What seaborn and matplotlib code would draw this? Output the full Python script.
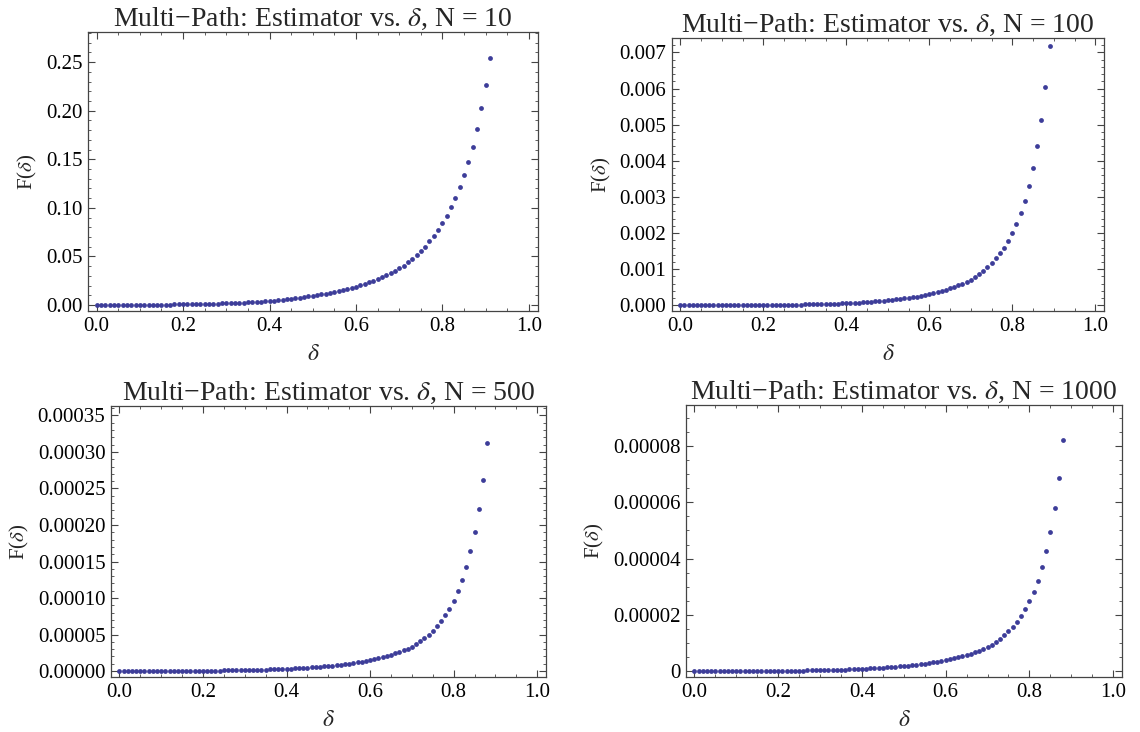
import numpy as np
import pandas as pd
import seaborn as sns
import matplotlib.pyplot as plt
from matplotlib.ticker import MultipleLocator, FuncFormatter

# delta grid used by all four panels
delta = [0.00, 0.01, 0.02, 0.03, 0.04, 0.05, 0.06, 0.07, 0.08, 0.09,
         0.10, 0.11, 0.12, 0.13, 0.14, 0.15, 0.16, 0.17, 0.18, 0.19,
         0.20, 0.21, 0.22, 0.23, 0.24, 0.25, 0.26, 0.27, 0.28, 0.29,
         0.30, 0.31, 0.32, 0.33, 0.34, 0.35, 0.36, 0.37, 0.38, 0.39,
         0.40, 0.41, 0.42, 0.43, 0.44, 0.45, 0.46, 0.47, 0.48, 0.49,
         0.50, 0.51, 0.52, 0.53, 0.54, 0.55, 0.56, 0.57, 0.58, 0.59,
         0.60, 0.61, 0.62, 0.63, 0.64, 0.65, 0.66, 0.67, 0.68, 0.69,
         0.70, 0.71, 0.72, 0.73, 0.74, 0.75, 0.76, 0.77, 0.78, 0.79,
         0.80, 0.81, 0.82, 0.83, 0.84, 0.85, 0.86, 0.87, 0.88, 0.89,
         0.90, 0.91]

# N = 10, delta 0.00 .. 0.91
f_n10 = [0.0, 0.000001, 0.000004, 0.00001, 0.000018, 0.00003, 0.000044, 0.00006, 0.00008, 0.0001,
         0.00012, 0.00015, 0.00018, 0.00022, 0.00026, 0.00031, 0.00037, 0.00044, 0.00052, 0.00061,
         0.0007, 0.00077, 0.00084, 0.00092, 0.0010, 0.00109, 0.00119, 0.0013, 0.00142, 0.00156,
         0.0017, 0.00186, 0.00203, 0.00221, 0.00241, 0.00263, 0.00288, 0.00314, 0.00343, 0.00375,
         0.0041, 0.0045, 0.0049, 0.0053, 0.0058, 0.0063, 0.0068, 0.0074, 0.0081, 0.0088,
         0.0096, 0.0103, 0.0110, 0.0118, 0.0126, 0.0135, 0.0144, 0.0154, 0.0165, 0.0177,
         0.0189, 0.0203, 0.0218, 0.0233, 0.0250, 0.0268, 0.0287, 0.0308, 0.0330, 0.0354,
         0.0378, 0.0405, 0.0440, 0.0474, 0.0515, 0.0556, 0.0601, 0.0656, 0.0711, 0.0773,
         0.0841, 0.0920, 0.1006, 0.1102, 0.1212, 0.1336, 0.1473, 0.1631, 0.1813, 0.2023,
         0.2263, 0.2545]

# N = 100, delta 0.00 .. 0.89
f_n100 = [0.0, 0.0000001, 0.0000002, 0.0000003, 0.0000004, 0.0000005, 0.0000006, 0.0000008, 0.000001, 0.0000012,
          0.0000015, 0.0000019, 0.0000023, 0.0000028, 0.0000034, 0.000004, 0.0000048, 0.0000057, 0.0000066, 0.0000076,
          0.0000085, 0.0000094, 0.0000105, 0.0000117, 0.000013, 0.0000144, 0.000016, 0.0000178, 0.0000197, 0.0000219,
          0.000024, 0.000026, 0.000029, 0.000032, 0.000035, 0.000038, 0.000041, 0.000045, 0.00005, 0.000055,
          0.00006, 0.000065, 0.000071, 0.000077, 0.000084, 0.000092, 0.0001, 0.000109, 0.000118, 0.000129,
          0.00014, 0.000151, 0.000164, 0.000177, 0.000192, 0.000208, 0.000225, 0.000243, 0.000263, 0.000285,
          0.00031, 0.000336, 0.000365, 0.000396, 0.00043, 0.000466, 0.000506, 0.000549, 0.000595, 0.000646,
          0.00070, 0.00078, 0.00087, 0.00096, 0.00106, 0.00117, 0.00130, 0.00144, 0.00160, 0.00179,
          0.00200, 0.00226, 0.00256, 0.00290, 0.00331, 0.00380, 0.00440, 0.00513, 0.00604, 0.00718]

# N = 500, delta 0.00 .. 0.88
f_n500 = [0.0, 0.000000005, 0.00000001, 0.000000015, 0.00000002, 0.00000003, 0.00000004, 0.00000005, 0.00000006, 0.00000007,
          0.00000008, 0.0000001, 0.00000012, 0.00000014, 0.00000017, 0.0000002, 0.00000024, 0.00000028, 0.00000032, 0.00000037,
          0.00000042, 0.00000047, 0.00000052, 0.00000058, 0.00000064, 0.00000071, 0.00000079, 0.00000088, 0.00000097, 0.00000108,
          0.0000012, 0.0000013, 0.0000014, 0.0000016, 0.0000017, 0.0000019, 0.0000021, 0.0000023, 0.0000025, 0.0000027,
          0.0000030, 0.0000033, 0.0000035, 0.0000038, 0.0000042, 0.0000045, 0.0000049, 0.0000053, 0.0000058, 0.0000063,
          0.0000068, 0.0000074, 0.0000080, 0.0000086, 0.0000093, 0.0000101, 0.0000109, 0.0000118, 0.0000128, 0.0000139,
          0.0000150, 0.0000162, 0.0000176, 0.0000190, 0.0000206, 0.0000223, 0.0000241, 0.0000261, 0.0000282, 0.0000305,
          0.0000330, 0.0000368, 0.0000406, 0.0000447, 0.0000497, 0.0000548, 0.0000612, 0.0000680, 0.0000762, 0.0000853,
          0.0000963, 0.000109, 0.000124, 0.000142, 0.000164, 0.000190, 0.000222, 0.000262, 0.000312]

# N = 1000, delta 0.00 .. 0.88
f_n1000 = [0.0, 0.000000001, 0.000000002, 0.000000003, 0.000000005, 0.000000007, 0.00000001, 0.000000012, 0.000000014, 0.000000017,
           0.00000002, 0.000000025, 0.00000003, 0.000000037, 0.000000045, 0.000000053, 0.000000063, 0.000000074, 0.000000086, 0.0000001,
           0.00000011, 0.00000012, 0.00000014, 0.00000015, 0.00000017, 0.00000019, 0.00000021, 0.00000024, 0.00000026, 0.00000029,
           0.00000032, 0.00000035, 0.00000038, 0.00000042, 0.00000046, 0.0000005, 0.00000055, 0.0000006, 0.00000066, 0.00000073,
           0.0000008, 0.00000087, 0.00000094, 0.00000102, 0.00000111, 0.0000012, 0.0000013, 0.00000141, 0.00000153, 0.00000166,
           0.0000018, 0.00000194, 0.0000021, 0.00000227, 0.00000245, 0.00000264, 0.00000285, 0.00000308, 0.00000333, 0.0000036,
           0.0000039, 0.0000042, 0.0000046, 0.0000049, 0.0000053, 0.0000058, 0.0000062, 0.0000067, 0.0000073, 0.0000079,
           0.0000085, 0.0000094, 0.0000103, 0.0000114, 0.0000127, 0.0000141, 0.0000157, 0.0000176, 0.0000197, 0.0000221,
           0.0000249, 0.0000282, 0.0000322, 0.0000369, 0.0000426, 0.0000496, 0.0000580, 0.0000687, 0.0000823]

titles = ['Multi\u2212Path: Estimator vs. $\\delta$, N = 10',
          'Multi\u2212Path: Estimator vs. $\\delta$, N = 100',
          'Multi\u2212Path: Estimator vs. $\\delta$, N = 500',
          'Multi\u2212Path: Estimator vs. $\\delta$, N = 1000']

sns.set_style("ticks")
plt.rcParams['font.family'] = ['Liberation Serif', 'DejaVu Serif']
plt.rcParams['mathtext.fontset'] = 'stix'

W, H = 1140, 732
fig = plt.figure(figsize=(W / 100, H / 100), dpi=100)


def box(left, top, right, bottom):
    return [left / W, 1 - bottom / H, (right - left) / W, (bottom - top) / H]


panels = [
    # frame box (px), values, ylim, y major, y minor, tick label formatter
    (box(88, 32, 538, 311), f_n10, (-0.0062, 0.281), 0.05, 0.01, lambda v, p: f'{v:.2f}'),
    (box(672, 38, 1104, 311), f_n100, (-0.000157, 0.0074), 0.001, 0.0002, lambda v, p: f'{v:.3f}'),
    (box(111, 406, 546, 677), f_n500, (-0.0000082, 0.000363), 0.00005, 0.00001, lambda v, p: f'{v:.5f}'),
    (box(686, 405, 1122, 677), f_n1000, (-0.0000021, 0.0000946), 0.00002, 0.000005,
     lambda v, p: '0' if abs(v) < 1e-12 else f'{v:.5f}'),
]

dot_color = '#3d3d99'
frame_color = '#444444'

for (rect, vals, ylim, ymaj, ymin, fmt), title in zip(panels, titles):
    ax = fig.add_axes(rect)
    df = pd.DataFrame({'delta': delta[:len(vals)], 'F': vals})
    sns.scatterplot(data=df, x='delta', y='F', color=dot_color, s=12,
                    linewidth=0, ax=ax)
    ax.set_xlim(-0.02, 1.021)
    ax.set_ylim(*ylim)
    ax.xaxis.set_major_locator(MultipleLocator(0.2))
    ax.xaxis.set_minor_locator(MultipleLocator(0.05))
    ax.xaxis.set_major_formatter(FuncFormatter(lambda v, p: f'{v:.1f}'))
    ax.yaxis.set_major_locator(MultipleLocator(ymaj))
    ax.yaxis.set_minor_locator(MultipleLocator(ymin))
    ax.yaxis.set_major_formatter(FuncFormatter(fmt))
    ax.tick_params(which='both', direction='in', top=True, right=True,
                   color=frame_color, labelsize=15, labelcolor='black')
    ax.tick_params(which='major', length=5, width=0.8, pad=4)
    ax.tick_params(which='minor', length=2.5, width=0.6)
    for sp in ax.spines.values():
        sp.set_color(frame_color)
        sp.set_linewidth(0.9)
    ax.set_title(title, fontsize=20, pad=3)
    ax.set_xlabel('$\\delta$', fontsize=17, labelpad=6)
    ax.set_ylabel('F($\\delta$)', fontsize=15, labelpad=5)

fig.savefig('out.png', dpi=100)
